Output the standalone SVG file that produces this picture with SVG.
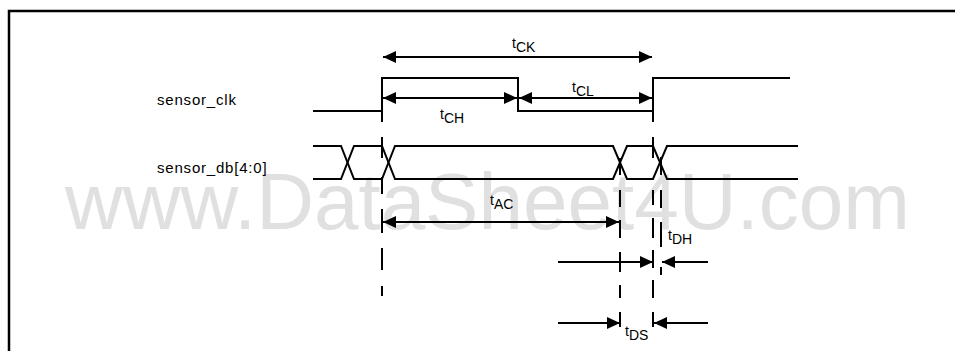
<svg xmlns="http://www.w3.org/2000/svg" width="955" height="351" viewBox="0 0 955 351">
<defs>
<marker id="ah" markerUnits="userSpaceOnUse" markerWidth="14" markerHeight="12" refX="13" refY="6" orient="auto-start-reverse">
<path d="M0,0 L13,6 L0,12 z" fill="#000"/>
</marker>
<style>
.sig{fill:none;stroke:#000;stroke-width:2}
.tick{fill:none;stroke:#000;stroke-width:2}
.arr{fill:none;stroke:#000;stroke-width:2}
.lbl{font-family:"Liberation Sans",Arial,sans-serif;font-size:15px;letter-spacing:0.8px;fill:#000}
.t{font-family:"Liberation Sans",Arial,sans-serif;font-size:14px;fill:#000}
.wm{font-family:"Liberation Sans",Arial,sans-serif;font-size:80px;fill:#e0e0e0}
</style>
</defs>
<rect width="955" height="351" fill="#fff"/>
<text class="wm" x="65" y="229">www.DataSheet4U.com</text>
<path d="M9,352 V11 H956" fill="none" stroke="#000" stroke-width="2.5"/>

<g id="sensor_clk">
<text class="lbl" x="157" y="105">sensor_clk</text>
<path class="sig" d="M313,111 H382 V78 H518 V111 H653 V78 H790"/>
</g>

<g id="sensor_db">
<text class="lbl" x="157" y="173">sensor_db[4:0]</text>
<path class="sig" d="M313,146 H341 L354,179 H382 L395,146 H613 L627,179 H653 L667,146 H798"/>
<path class="sig" d="M313,179 H341 L354,146 H382 L395,179 H613 L627,146 H653 L667,179 H798"/>
</g>

<g id="guides">
<path class="tick" d="M382,111 V122 M382,137 V158 M382,177 V194 M382,209 V233 M382,248 V270 M382,286 V296"/>
<path class="tick" d="M653,111 V122 M653,137 V158 M653,190 V205 M653,218 V238 M653,250 V268 M653,280 V298 M653,312 V327"/>
<path class="tick" d="M620,158 V175 M620,190 V207 M620,220 V238 M620,252 V272 M620,285 V298 M620,312 V327"/>
<path class="tick" d="M661,157 V175 M661,190 V208 M661,222 V247 M661,267 V275"/>
</g>

<g id="connectors">
<path class="arr" d="M383,57 H652" marker-start="url(#ah)" marker-end="url(#ah)"/>
<path class="arr" d="M383,98 H517" marker-start="url(#ah)" marker-end="url(#ah)"/>
<path class="arr" d="M519,98 H652" marker-start="url(#ah)" marker-end="url(#ah)"/>
<path class="arr" d="M383,222 H619" marker-start="url(#ah)" marker-end="url(#ah)"/>
<path class="arr" d="M558,262 H653" marker-end="url(#ah)"/>
<path class="arr" d="M708,262 H662" marker-end="url(#ah)"/>
<path class="arr" d="M558,323 H620" marker-end="url(#ah)"/>
<path class="arr" d="M708,323 H654" marker-end="url(#ah)"/>
</g>

<g id="labels">
<text class="t" x="512" y="48">t<tspan dy="4">CK</tspan></text>
<text class="t" x="440" y="119">t<tspan dy="4">CH</tspan></text>
<text class="t" x="572" y="92">t<tspan dy="4">CL</tspan></text>
<text class="t" x="490" y="205">t<tspan dy="4">AC</tspan></text>
<text class="t" x="668" y="240">t<tspan dy="4">DH</tspan></text>
<text class="t" x="625" y="336">t<tspan dy="4">DS</tspan></text>
</g>
</svg>
